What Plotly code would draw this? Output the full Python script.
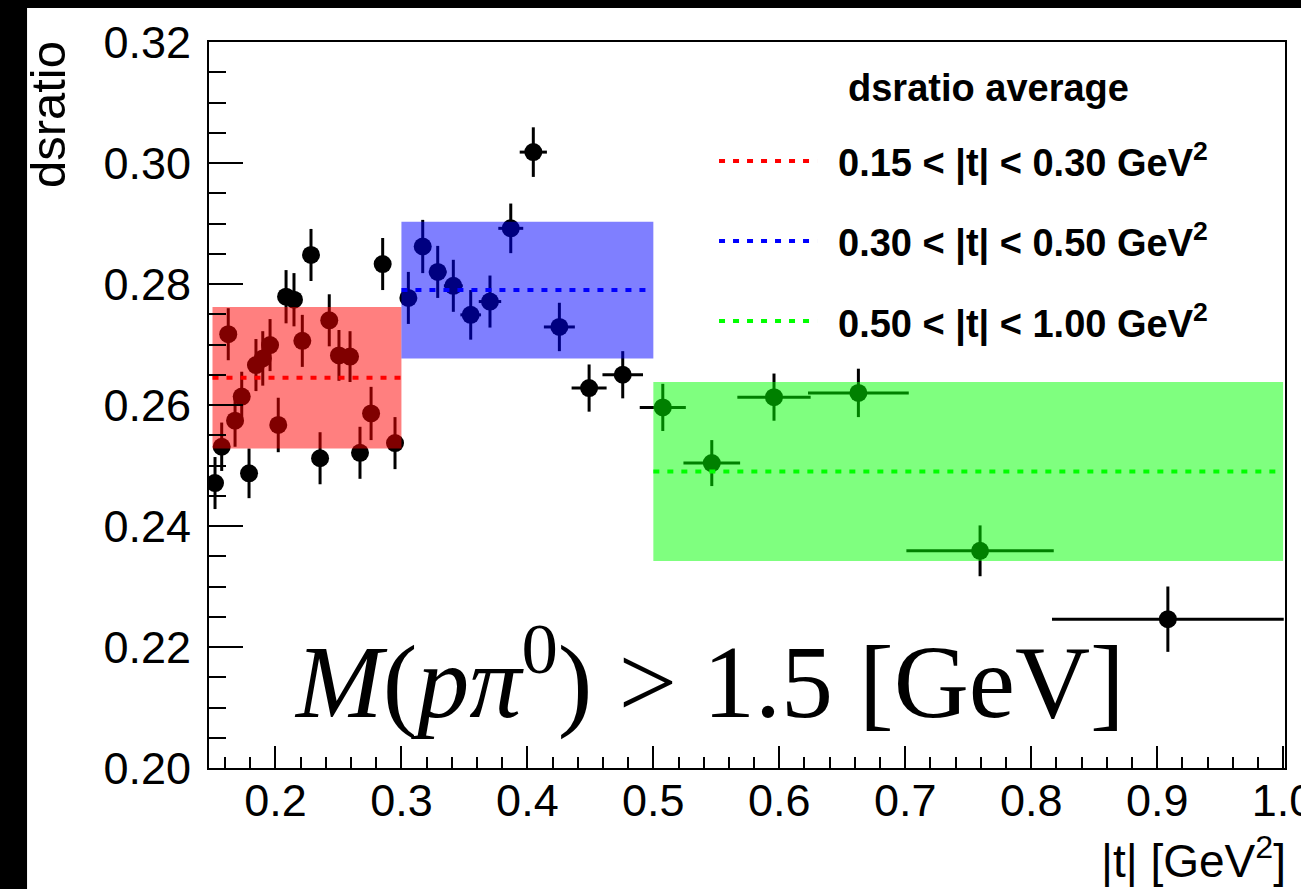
import plotly.graph_objects as go

# |t| bin centres and half-widths [GeV^2]
t_vals = [0.1520, 0.1573, 0.1625, 0.1679, 0.1732, 0.1790, 0.1845, 0.1899, 0.1957, 0.2022,
          0.2084, 0.2147, 0.2213, 0.2282, 0.2354, 0.2427, 0.2504, 0.2592, 0.2671, 0.2759,
          0.2851, 0.2949, 0.3055, 0.3169, 0.3288, 0.3412, 0.3550, 0.3703, 0.3868, 0.4047,
          0.4254, 0.4490, 0.4757, 0.5075, 0.5464, 0.5958, 0.6628, 0.7594, 0.9085]
t_err = [0.0024, 0.0024, 0.0024, 0.0025, 0.0025, 0.0026, 0.0026, 0.0027, 0.0028, 0.0029,
         0.0030, 0.0031, 0.0032, 0.0034, 0.0036, 0.0037, 0.0040, 0.0042, 0.0044, 0.0047,
         0.0051, 0.0055, 0.0060, 0.0065, 0.0070, 0.0075, 0.0082, 0.0089, 0.0099, 0.0108,
         0.0123, 0.0139, 0.0161, 0.0183, 0.0225, 0.0291, 0.0400, 0.0585, 0.0920]

# dsratio per bin and its uncertainty
ratio = [0.2471, 0.2531, 0.2717, 0.2574, 0.2614, 0.2487, 0.2666, 0.2677, 0.2699, 0.2567,
         0.2779, 0.2774, 0.2706, 0.2848, 0.2512, 0.2740, 0.2682, 0.2680, 0.2521, 0.2586,
         0.2833, 0.2537, 0.2777, 0.2862, 0.2820, 0.2797, 0.2749, 0.2771, 0.2892, 0.3018,
         0.2729, 0.2628, 0.2650, 0.2596, 0.2504, 0.2613, 0.2620, 0.2359, 0.2246]
ratio_err = [0.0043, 0.0040, 0.0043, 0.0043, 0.0041, 0.0041, 0.0043, 0.0045, 0.0043, 0.0045,
             0.0044, 0.0044, 0.0043, 0.0043, 0.0043, 0.0043, 0.0042, 0.0042, 0.0043, 0.0044,
             0.0043, 0.0043, 0.0043, 0.0044, 0.0043, 0.0043, 0.0041, 0.0043, 0.0041, 0.0041,
             0.0040, 0.0039, 0.0039, 0.0039, 0.0038, 0.0039, 0.0040, 0.0042, 0.0054]

# averaged dsratio in three |t| ranges
avg_lo = [0.15, 0.30, 0.50]
avg_hi = [0.30, 0.50, 1.00]
avg_val = [0.2645, 0.2790, 0.2490]
avg_err = [0.0117, 0.0113, 0.0148]
avg_labels = ["0.15 &lt; |t| &lt; 0.30 GeV<sup>2</sup>",
              "0.30 &lt; |t| &lt; 0.50 GeV<sup>2</sup>",
              "0.50 &lt; |t| &lt; 1.00 GeV<sup>2</sup>"]
line_colors = ["#ff0000", "#0000ff", "#00ff00"]
band_colors = ["rgba(255,0,0,0.5)", "rgba(0,0,255,0.5)", "rgba(0,255,0,0.5)"]

SANS = "Liberation Sans, Arial, Helvetica, sans-serif"
SERIF = "Liberation Serif, Times New Roman, serif"
DOT = "6px,8px"

fig = go.Figure()

# measured points
fig.add_trace(go.Scatter(
    x=t_vals, y=ratio, mode="markers",
    marker=dict(color="black", size=18, line=dict(width=0)),
    error_y=dict(type="data", array=ratio_err, color="black", thickness=3, width=0),
    error_x=dict(type="data", array=t_err, color="black", thickness=3, width=0),
    showlegend=False, hoverinfo="x+y",
))

# translucent average +/- error bands, drawn over the points
for lo, hi, a, e, c in zip(avg_lo, avg_hi, avg_val, avg_err, band_colors):
    fig.add_trace(go.Scatter(
        x=[lo, hi, hi, lo, lo], y=[a - e, a - e, a + e, a + e, a - e],
        mode="lines", fill="toself", fillcolor=c, line=dict(width=0, color=c),
        showlegend=False, hoverinfo="skip",
    ))

# dotted average lines
for lo, hi, a, c in zip(avg_lo, avg_hi, avg_val, line_colors):
    fig.add_trace(go.Scatter(
        x=[lo, hi], y=[a, a], mode="lines",
        line=dict(color=c, width=4, dash=DOT),
        showlegend=False, hoverinfo="skip",
    ))

shapes = []
annotations = []

# legend block
annotations.append(dict(
    text="<b>dsratio average</b>", xref="paper", yref="paper", x=0.724, y=0.9366,
    xanchor="center", yanchor="middle", showarrow=False,
    font=dict(family=SANS, size=38, color="black"),
))
leg_y = [0.8361, 0.7259, 0.6157]
for y, c, lab in zip(leg_y, line_colors, avg_labels):
    shapes.append(dict(type="line", xref="paper", yref="paper",
                       x0=0.474, x1=0.5651, y0=y, y1=y,
                       line=dict(color=c, width=4, dash=DOT)))
    annotations.append(dict(
        text="<b>" + lab + "</b>", xref="paper", yref="paper", x=0.5827, y=y,
        xanchor="left", yanchor="middle", showarrow=False,
        font=dict(family=SANS, size=38, color="black"),
    ))

# mass-cut label
annotations.append(dict(
    text="<i>M</i>(<i>pπ</i><sup>0</sup>) &gt; 1.5 [GeV]",
    xref="paper", yref="paper", x=0.4656, y=0.130,
    xanchor="center", yanchor="middle", showarrow=False,
    font=dict(family=SERIF, size=104, color="black"),
))

# axis titles
annotations.append(dict(
    text="|t| [GeV<sup>2</sup>]", xref="paper", yref="paper", x=1.0028, y=-0.124,
    xanchor="right", yanchor="middle", showarrow=False,
    font=dict(family=SANS, size=46, color="black"),
))
annotations.append(dict(
    text="dsratio", xref="paper", yref="paper", x=-0.1496, y=0.8994,
    xanchor="center", yanchor="middle", textangle=-90, showarrow=False,
    font=dict(family=SANS, size=49, color="black"),
))

# black border bands along the top and left edges
shapes.append(dict(type="rect", xref="paper", yref="paper", x0=-0.1943, x1=-0.1691,
                   y0=-0.1667, y1=1.0579, fillcolor="black", line=dict(width=0),
                   layer="above"))
shapes.append(dict(type="rect", xref="paper", yref="paper", x0=-0.1943, x1=1.0149,
                   y0=1.0468, y1=1.0579, fillcolor="black", line=dict(width=0),
                   layer="above"))

axis_common = dict(
    showgrid=False, zeroline=False, showline=True, linewidth=2, linecolor="black",
    mirror=True, ticks="inside", tickwidth=2, tickcolor="black", automargin=False,
    ticklabeloverflow="allow",
    tickfont=dict(family=SANS, size=45, color="black"),
)

fig.update_layout(
    width=1301, height=889,
    margin=dict(l=209, r=16, t=42, b=121, autoexpand=False),
    template="none",
    paper_bgcolor="white", plot_bgcolor="white",
    font=dict(family=SANS, color="black"),
    xaxis=dict(range=[0.14722, 1.0015], tickmode="linear", tick0=0.2, dtick=0.1,
               tickformat=".1f", ticklen=22, ticklabelstandoff=-8,
               minor=dict(ticks="inside", ticklen=11, tickwidth=2, tickcolor="black",
                          tick0=0.2, dtick=0.02, showgrid=False),
               **axis_common),
    yaxis=dict(range=[0.20, 0.32], tickmode="linear", tick0=0.2, dtick=0.02,
               tickformat=".2f", ticklen=34, ticklabelstandoff=7,
               minor=dict(ticks="inside", ticklen=17, tickwidth=2, tickcolor="black",
                          tick0=0.2, dtick=0.005, showgrid=False),
               **axis_common),
    shapes=shapes, annotations=annotations, showlegend=False,
)

fig.write_html("out.html")
